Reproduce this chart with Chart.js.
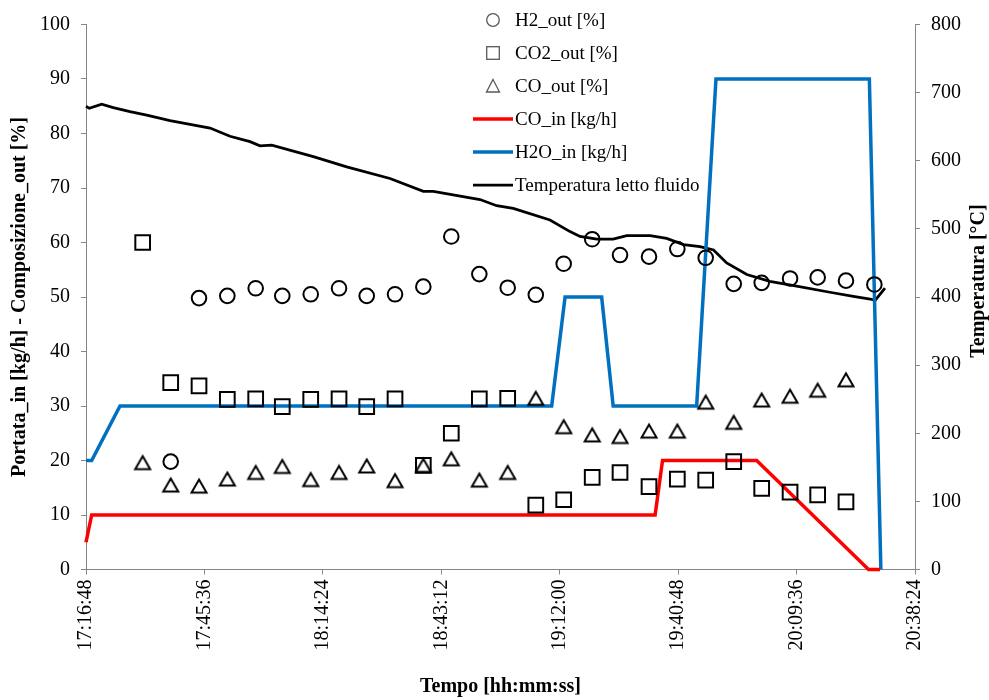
<!DOCTYPE html>
<html>
<head>
<meta charset="utf-8">
<title>Prova letto fluido</title>
<script src="https://cdn.jsdelivr.net/npm/chart.js@4.4.1/dist/chart.umd.min.js"></script>
<style>
  body { margin: 0; background: #fff; }
  #wrap { position: relative; width: 989px; height: 700px; }
  #legend { position: absolute; left: 473px; top: 3.5px; font: 19px "Liberation Serif", serif; color: #000; }
  #legend .item { height: 33px; display: flex; align-items: center; white-space: nowrap; }
  #legend svg { width: 40px; height: 20px; margin-right: 2px; flex: none; }
</style>
</head>
<body>
<div id="wrap">
  <canvas id="chart" width="989" height="700"></canvas>
  <div id="legend"></div>
</div>
<script>
// campioni al gascromatografo (composizione in uscita, %)
const sampleTimes = ['17:30:35', '17:37:24', '17:44:17', '17:51:10', '17:58:04', '18:04:32', '18:11:27',
  '18:18:20', '18:25:04', '18:31:57', '18:38:50', '18:45:38', '18:52:27', '18:59:21', '19:06:11',
  '19:12:58', '19:19:54', '19:26:40', '19:33:43', '19:40:36', '19:47:30', '19:54:19', '20:01:07',
  '20:08:01', '20:14:44', '20:21:37', '20:28:31'];
const h2Out = [null, 19.8, 49.8, 50.2, 51.6, 50.2, 50.5, 51.6, 50.2, 50.5, 51.9, 61.1, 54.2, 51.7,
  50.4, 56.1, 60.6, 57.7, 57.4, 58.8, 57.2, 52.4, 52.6, 53.4, 53.6, 53.0, 52.3];
const co2Out = [60.0, 34.3, 33.7, 31.2, 31.3, 29.9, 31.2, 31.3, 29.9, 31.3, 19.1, 25.0, 31.3, 31.4,
  11.8, 12.8, 16.9, 17.8, 15.2, 16.6, 16.4, 19.8, 14.9, 14.2, 13.7, 12.4, null];
const coOut = [19.6, 15.5, 15.3, 16.6, 17.8, 18.9, 16.5, 17.8, 19.0, 16.3, 19.1, 20.3, 16.4, 17.8,
  31.4, 26.2, 24.7, 24.4, 25.4, 25.4, 30.7, 27.0, 31.1, 31.8, 32.9, 34.8, null];

// portate in ingresso [kg/h]
const coInTimes = ['17:16:48', '17:18:11', '19:35:12', '19:37:00', '19:59:54', '20:27:06', '20:29:54'];
const coIn = [5, 10, 10, 20, 20, 0, 0];
const h2oInTimes = ['17:16:48', '17:18:11', '17:25:04', '19:10:03', '19:13:18', '19:22:12', '19:25:00',
  '19:45:18', '19:50:00', '20:27:18', '20:30:06'];
const h2oIn = [20, 20, 30, 30, 50, 50, 30, 30, 90, 90, 0];

// temperatura letto fluido [°C]
const tempTimes = ['17:16:48', '17:17:36', '17:20:37', '17:23:26', '17:27:30', '17:31:34', '17:37:14',
  '17:46:58', '17:51:49', '17:56:41', '17:59:07', '18:01:58', '18:12:05', '18:20:12', '18:30:44',
  '18:38:50', '18:41:16', '18:52:37', '18:56:41', '19:00:42', '19:09:38', '19:14:30', '19:16:56',
  '19:21:00', '19:25:00', '19:28:18', '19:34:00', '19:38:00', '19:42:06', '19:46:06', '19:49:24',
  '19:52:36', '19:57:30', '20:03:06', '20:09:36', '20:17:42', '20:23:24', '20:27:30', '20:28:42',
  '20:31:06'];
const tempBed = [680, 677, 683, 678, 672, 667, 659, 648, 636, 628, 622, 623, 606, 591, 574, 555, 555,
  543, 534, 530, 513, 496, 489, 485, 485, 490, 490, 486, 477, 474, 469, 450, 433, 423, 416, 407, 401,
  397, 395, 413];

const seriesLabels = ['H2_out [%]', 'CO2_out [%]', 'CO_out [%]', 'CO_in [kg/h]', 'H2O_in [kg/h]',
  'Temperatura letto fluido'];
const xStart = '17:16:48', xEnd = '20:38:24', xStep = '00:28:48';
const leftTitle = 'Portata_in [kg/h] - Composizione_out [%]';
const rightTitle = 'Temperatura [°C]';
const bottomTitle = 'Tempo [hh:mm:ss]';

const BLUE = 'rgb(0,112,192)';
const RED = 'rgb(255,0,0)';
const FONT = '"Liberation Serif", "Times New Roman", serif';

function toSec(t) {
  const [h, m, s] = t.split(':').map(Number);
  return h * 3600 + m * 60 + s;
}

function fmtTime(sec) {
  const p = n => String(n).padStart(2, '0');
  return `${Math.floor(sec / 3600)}:${p(Math.floor(sec % 3600 / 60))}:${p(Math.round(sec % 60))}`;
}

function points(times, vals) {
  return times.map((t, i) => ({ x: toSec(t), y: vals[i] })).filter(p => p.y !== null);
}

// triangolo vuoto centrato sul riquadro, come il marker di Excel
function triangleMarker() {
  const c = document.createElement('canvas');
  c.width = 20;
  c.height = 18;
  const g = c.getContext('2d');
  g.lineWidth = 2;
  g.strokeStyle = '#000';
  g.beginPath();
  g.moveTo(10, 2.5);
  g.lineTo(17.5, 15.5);
  g.lineTo(2.5, 15.5);
  g.closePath();
  g.stroke();
  return c;
}

const markerBase = { showLine: false, pointBorderColor: '#000', pointBackgroundColor: 'transparent', pointBorderWidth: 2 };

const datasets = [
  { ...markerBase, label: seriesLabels[0], data: points(sampleTimes, h2Out), pointStyle: 'circle', pointRadius: 7.3, yAxisID: 'y' },
  { ...markerBase, label: seriesLabels[1], data: points(sampleTimes, co2Out), pointStyle: 'rect', pointRadius: 10.4, yAxisID: 'y' },
  { ...markerBase, label: seriesLabels[2], data: points(sampleTimes, coOut), pointStyle: triangleMarker(), pointRadius: 8, yAxisID: 'y' },
  { label: seriesLabels[3], data: points(coInTimes, coIn), showLine: true, borderColor: RED, borderWidth: 3.5, pointRadius: 0, clip: false, yAxisID: 'y' },
  { label: seriesLabels[4], data: points(h2oInTimes, h2oIn), showLine: true, borderColor: BLUE, borderWidth: 3.5, pointRadius: 0, clip: false, yAxisID: 'y' },
  { label: seriesLabels[5], data: points(tempTimes, tempBed), showLine: true, borderColor: '#000', borderWidth: 2.75, pointRadius: 0, clip: false, yAxisID: 'y1' }
];

// titolo dell'asse destro letto dal basso verso l'alto
const rightTitlePlugin = {
  id: 'rightTitle',
  afterDraw(chart) {
    const ctx = chart.ctx;
    ctx.save();
    ctx.translate(979, 281);
    ctx.rotate(-Math.PI / 2);
    ctx.font = `bold 20px ${FONT}`;
    ctx.fillStyle = '#000';
    ctx.textAlign = 'center';
    ctx.textBaseline = 'middle';
    ctx.fillText(rightTitle, 0, 0);
    ctx.restore();
  }
};

const axisGrid = { drawOnChartArea: false, drawTicks: true, tickLength: 5, color: '#868686' };
const axisBorder = { color: '#868686', width: 1 };
const tickFont = { family: FONT, size: 20 };
const titleFont = { family: FONT, size: 20, weight: 'bold' };

Chart.defaults.font.family = FONT;
Chart.defaults.color = '#000';

new Chart(document.getElementById('chart'), {
  type: 'scatter',
  data: { datasets },
  plugins: [rightTitlePlugin],
  options: {
    responsive: false,
    animation: false,
    events: [],
    layout: { padding: { top: 24.5 } },
    elements: { line: { tension: 0 } },
    plugins: { legend: { display: false }, tooltip: { enabled: false } },
    scales: {
      x: {
        type: 'linear',
        min: toSec(xStart),
        max: toSec(xEnd),
        grid: axisGrid,
        border: axisBorder,
        ticks: {
          stepSize: toSec(xStep),
          autoSkip: false,
          minRotation: 90,
          maxRotation: 90,
          padding: 5,
          font: tickFont,
          callback: v => fmtTime(v)
        },
        title: { display: true, text: bottomTitle, font: titleFont, padding: { top: 0, bottom: 1 } },
        afterFit: s => { s.height = 130.5; }
      },
      y: {
        position: 'left',
        min: 0,
        max: 100,
        grid: axisGrid,
        border: axisBorder,
        ticks: { stepSize: 10, padding: 11, font: tickFont },
        title: { display: true, text: leftTitle, font: titleFont, padding: { top: 8, bottom: 0 } },
        afterFit: s => { s.width = 86; }
      },
      y1: {
        position: 'right',
        min: 0,
        max: 800,
        grid: axisGrid,
        border: axisBorder,
        ticks: { stepSize: 100, padding: 11, font: tickFont },
        afterFit: s => { s.width = 74; }
      }
    }
  }
});

// legenda in stile Excel, una voce per riga
function legendSymbol(i) {
  const grey = '#595959';
  if (i === 0) return `<circle cx="20" cy="10" r="6.3" fill="none" stroke="${grey}" stroke-width="1.3"/>`;
  if (i === 1) return `<rect x="13.7" y="3.7" width="12.6" height="12.6" fill="none" stroke="${grey}" stroke-width="1.3"/>`;
  if (i === 2) return `<polygon points="20,3.5 26.5,16 13.5,16" fill="none" stroke="${grey}" stroke-width="1.3"/>`;
  const ds = datasets[i];
  return `<line x1="0" y1="10" x2="40" y2="10" stroke="${ds.borderColor}" stroke-width="${ds.borderWidth}"/>`;
}

document.getElementById('legend').innerHTML = seriesLabels.map((label, i) =>
  `<div class="item"><svg viewBox="0 0 40 20">${legendSymbol(i)}</svg><span>${label}</span></div>`
).join('');
</script>
</body>
</html>
